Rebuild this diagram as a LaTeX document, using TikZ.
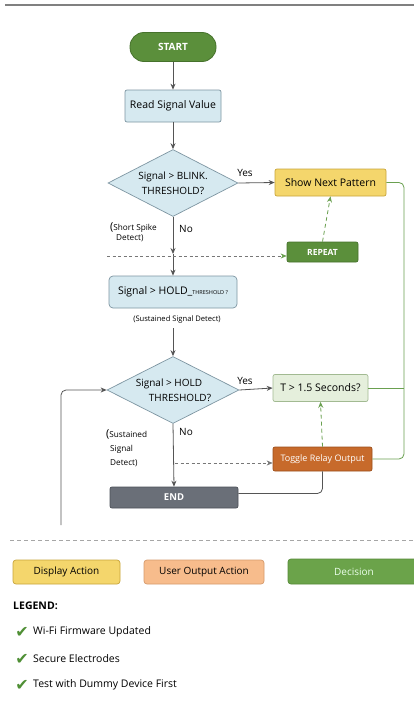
\documentclass[tikz,border=0pt]{standalone}
\usepackage{fontspec}
\setmainfont{Open Sans}
\newfontfamily\symfont{DejaVu Sans}
\usetikzlibrary{shapes.geometric,arrows.meta,positioning,calc}
\definecolor{startgreen}{HTML}{5B8F3B}
\definecolor{startborder}{HTML}{46722C}
\definecolor{bluefill}{HTML}{D6E9F0}
\definecolor{blueborder}{HTML}{7E96A2}
\definecolor{yelfill}{HTML}{F4D66C}
\definecolor{yelborder}{HTML}{C9A53B}
\definecolor{palefill}{HTML}{E5EFDC}
\definecolor{paleborder}{HTML}{A2BA92}
\definecolor{orfill}{HTML}{C76A2B}
\definecolor{orborder}{HTML}{9C4F1C}
\definecolor{endfill}{HTML}{6A6F78}
\definecolor{endborder}{HTML}{4C5058}
\definecolor{peach}{HTML}{F7BC8C}
\definecolor{peachborder}{HTML}{D69A6C}
\definecolor{leggreen}{HTML}{6BA34A}
\definecolor{leggreenb}{HTML}{568A38}
\definecolor{linegray}{HTML}{555555}
\definecolor{greenline}{HTML}{6AA050}
\definecolor{checkgreen}{HTML}{4F8F35}
\begin{document}
\begin{tikzpicture}[x=1pt,y=-1pt,
  every node/.style={font=\fontsize{10.5}{12}\selectfont, inner sep=0pt},
  startbox/.style={draw=startborder, fill=startgreen, text=white, rounded corners=14pt, minimum width=86pt, minimum height=29pt, line width=0.8pt},
  procbox/.style={draw=blueborder, fill=bluefill, rounded corners=2pt, line width=0.7pt},
  decbox/.style={diamond, draw=blueborder, fill=bluefill, line width=0.7pt, aspect=2, align=center, font=\fontsize{10}{15}\selectfont},
  yelbox/.style={draw=yelborder, fill=yelfill, rounded corners=2pt, line width=0.7pt},
  palebox/.style={draw=paleborder, fill=palefill, rounded corners=2pt, line width=0.7pt},
  orbox/.style={draw=orborder, fill=orfill, text=white, rounded corners=2pt, line width=0.7pt, font=\fontsize{9}{10}\selectfont},
  repbox/.style={draw=startborder, fill=startgreen, text=white, rounded corners=2pt, line width=0.7pt, font=\bfseries\fontsize{8.5}{10}\selectfont},
  endbox/.style={draw=endborder, fill=endfill, text=white, rounded corners=2pt, line width=0.7pt, font=\bfseries\fontsize{9.5}{10}\selectfont},
  arr/.style={draw=linegray, line width=0.8pt, -{Stealth[length=6pt,width=5pt]}},
  garr/.style={draw=greenline, line width=0.8pt, dashed, dash pattern=on 4pt off 3pt, -{Stealth[length=6pt,width=5pt]}},
  grayda/.style={draw=linegray!80, line width=0.6pt, dash pattern=on 3pt off 2.5pt, -{Stealth[length=6pt,width=5pt]}},
  gline/.style={draw=greenline, line width=0.8pt, rounded corners=5pt},
  lbl/.style={font=\fontsize{10}{10}\selectfont},
  note/.style={font=\fontsize{8.2}{10}\selectfont, align=left},
  legbox/.style={rounded corners=3pt, minimum height=24pt, line width=0.7pt, font=\fontsize{10}{10}\selectfont},
  chk/.style={font=\symfont\fontsize{16}{16}\selectfont, text=checkgreen},
  legtext/.style={font=\fontsize{10.5}{12}\selectfont, anchor=west}
]
\useasboundingbox (0,0) rectangle (414,712);
\fill[white] (0,0) rectangle (414,712);
% top rule
\coordinate (tr1) at (5,5);
\coordinate (tr2) at (414,5);
\draw[gray, line width=1.6pt] (tr1) -- (tr2);

% nodes
\node[startbox, font=\bfseries\fontsize{10}{10}\selectfont] (start) at (173,47) {START};
\node[procbox, minimum width=96pt, minimum height=32pt] (read) at (173,106) {Read Signal Value};
\node[decbox, minimum width=130pt, minimum height=67pt] (d1) at (173,183) {Signal > BLINK.\\THRESHOLD?};
\node[yelbox, minimum width=111pt, minimum height=27pt] (snp) at (330.5,182.5) {Show Next Pattern};
\node[repbox, minimum width=71pt, minimum height=20pt] (rep) at (322.5,252) {REPEAT};
\node[procbox, rounded corners=4pt, minimum width=128pt, minimum height=32pt] (hold) at (173,292) {Signal > HOLD\_{\fontsize{5.5}{6}\selectfont THRESHOLD ?}};
\node[font=\fontsize{7.6}{8}\selectfont] (sus1) at (177,320) {(Sustained Signal Detect)};
\node[decbox, minimum width=132pt, minimum height=67pt] (d2) at (173,390) {Signal > HOLD\hspace*{8pt}\\\hspace*{14pt}THRESHOLD?};
\node[palebox, minimum width=95pt, minimum height=27pt] (tb) at (320.5,388) {T > 1.5 Seconds?};
\node[orbox, minimum width=99pt, minimum height=24pt] (tog) at (322.5,459) {Toggle Relay Output};
\node[endbox, minimum width=128pt, minimum height=21pt] (end) at (174,497.5) {END};

% labels
\node[lbl] (y1) at (245,173) {Yes};
\node[lbl] (n1) at (186,229) {No};
\node[lbl] (y2) at (245,381) {Yes};
\node[lbl] (n2) at (186,432) {No};
\node[note, anchor=north west] (ss) at (110,222) {{\fontsize{11}{10}\selectfont(}Short Spike\\\hspace*{6pt}Detect)};
\node[note, anchor=north west, font=\fontsize{8.2}{14}\selectfont] (sd) at (106,429) {{\fontsize{11}{10}\selectfont(}Sustained\\\hspace*{4pt}Signal\\\hspace*{4pt}Detect)};

% coordinates
\coordinate (mid1) at (173,254);
\coordinate (dl1) at (107,256);
\coordinate (s2) at (173,328);
\coordinate (dl2) at (175,463);
\coordinate (rx) at (404,0);
\coordinate (lb) at (61,525);

% connectors
\draw[arr] (start) -- (read);
\draw[arr] (read) -- (d1.north);
\draw[arr] (d1.east) -- (snp.west);
\draw[arr] (d1.south) -- (mid1);
\draw[arr] (mid1) -- (hold.north);
\draw[grayda, -{Stealth[length=6pt,width=5pt,fill=greenline,color=greenline]}] (dl1) -- (dl1 -| rep.west);
\draw[garr] (rep.north) -- (snp.south);
\draw[arr] (s2) -- (d2.north);
\draw[arr] (d2.east) -- (tb.west);
\draw[arr] (d2.south) -- (end.north);
\draw[grayda] (dl2) -- (dl2 -| tog.west);
\draw[garr] (tog.north) -- (tb.south);
\draw[gline] (snp.east) -- (snp.east -| rx) |- (tog.east);
\draw[gline, rounded corners=0pt] (tb.east) -- (tb.east -| rx);
\draw[draw=linegray, line width=0.8pt, rounded corners=5pt] ([yshift=4pt]end.east) -| (tog.south);
\draw[arr, rounded corners=5pt] (lb) |- (d2.west);

% separator
\coordinate (sp1) at (10,540);
\coordinate (sp2) at (414,540);
\draw[gray!70, line width=0.7pt, dash pattern=on 4pt off 3pt] (sp1) -- (sp2);

% legend boxes
\node[legbox, draw=yelborder, fill=yelfill, minimum width=107pt] (lg1) at (66.5,572) {Display Action};
\node[legbox, draw=peachborder, fill=peach, minimum width=120pt] (lg2) at (204,572) {User Output Action};
\node[legbox, draw=leggreenb, fill=leggreen, text=white!92!green, minimum width=132pt, minimum height=25pt] (lg3) at (354,571.5) {Decision};

\node[anchor=west, font=\bfseries\fontsize{10.5}{12}\selectfont] (leg) at (13,606) {LEGEND:};
\node[chk] (c1) at (22,632) {✔};
\node[legtext] (t1) at (33,632) {Wi-Fi Firmware Updated};
\node[chk] (c2) at (22,659) {✔};
\node[legtext] (t2) at (33,659) {Secure Electrodes};
\node[chk] (c3) at (22,685) {✔};
\node[legtext] (t3) at (33,685) {Test with Dummy Device First};
\end{tikzpicture}
\end{document}
